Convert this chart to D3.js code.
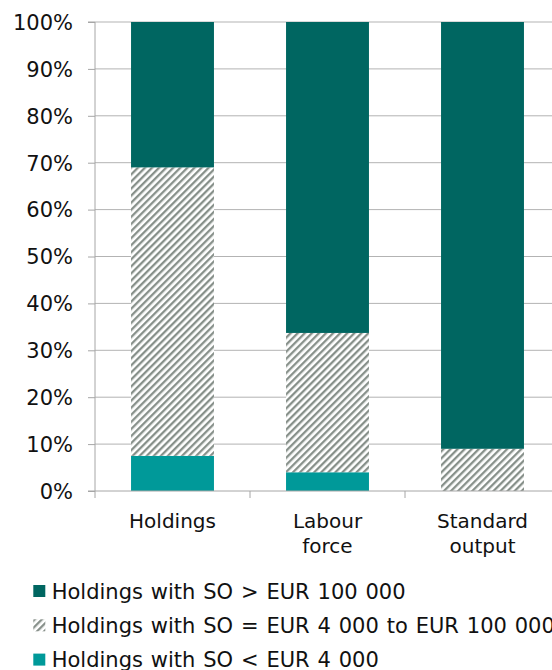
<!DOCTYPE html>
<html><head><meta charset="utf-8">
<script src="https://cdn.jsdelivr.net/npm/d3@7"></script>
<style>body{margin:0;background:#fff}svg{display:block}</style>
</head><body>
<script>
const categories = [["Holdings"], ["Labour", "force"], ["Standard", "output"]];
const seriesNames = ["Holdings with SO < EUR 4 000", "Holdings with SO = EUR 4 000 to EUR 100 000", "Holdings with SO > EUR 100 000"];
const small = [7.5, 4.0, 0.0];
const medium = [61.5, 29.7, 9.0];
const large = [31.0, 66.3, 91.0];
const yTicks = [0, 10, 20, 30, 40, 50, 60, 70, 80, 90, 100];

const W = 552, H = 670;
const svg = d3.select("body").append("svg").attr("width", W).attr("height", H);
const font = "DejaVu Sans, Verdana, sans-serif";

const defs = svg.append("defs");
const pat = defs.append("pattern").attr("id", "hatch").attr("patternUnits", "userSpaceOnUse")
  .attr("width", 5).attr("height", 5).attr("patternTransform", "rotate(45)");
pat.append("rect").attr("width", 5).attr("height", 5).attr("fill", "#ffffff");
pat.append("rect").attr("x", 0).attr("width", 2.3).attr("height", 5).attr("fill", "#87908a");

const x0 = 95, x1 = 560, yTop = 22, yBot = 491;
const keys = categories.map(c => c.join(" "));
const x = d3.scaleBand().domain(keys).range([x0, x1]).paddingInner(0.465).paddingOuter(0.2325);
const y = d3.scaleLinear().domain([0, 100]).range([yBot, yTop]);

const colors = ["#009999", "url(#hatch)", "#006661"];

// gridlines
svg.append("g").selectAll("line").data(yTicks.filter(d => d > 0)).join("line")
  .attr("x1", x0).attr("x2", x1).attr("y1", d => y(d)).attr("y2", d => y(d))
  .attr("stroke", "#b3b3b3").attr("stroke-width", 1);

// y axis
const yAxis = svg.append("g").attr("transform", `translate(${x0},0)`)
  .call(d3.axisLeft(y).tickValues(yTicks).tickFormat(d => d + "%").tickSize(7).tickPadding(15));
yAxis.select(".domain").attr("stroke", "#a6a6a6").attr("d", `M-7,${y(100)}H0V${y(0)}`);
yAxis.selectAll(".tick line").attr("stroke", "#a6a6a6");
yAxis.selectAll("text").attr("font-family", font).attr("font-size", 21).attr("fill", "#111").attr("dy", "0.35em");

// stacked data
const rows = keys.map((k, i) => ({ key: k, s: small[i], m: medium[i], l: large[i] }));
const stack = d3.stack().keys(["s", "m", "l"])(rows);
svg.append("g").selectAll("g").data(stack).join("g")
  .attr("fill", (d, i) => colors[i])
  .selectAll("rect").data(d => d).join("rect")
  .attr("x", d => x(d.data.key)).attr("width", x.bandwidth())
  .attr("y", d => y(d[1])).attr("height", d => Math.max(0, y(d[0]) - y(d[1])));

// x axis
const xAxisG = svg.append("g").attr("transform", `translate(0,${yBot})`);
xAxisG.append("line").attr("x1", x0 - 7).attr("x2", x1).attr("stroke", "#a6a6a6");
xAxisG.selectAll("line.tk").data(d3.range(keys.length + 1)).join("line").attr("class", "tk")
  .attr("x1", i => x0 + i * (x1 - x0) / keys.length).attr("x2", i => x0 + i * (x1 - x0) / keys.length)
  .attr("y1", 0).attr("y2", 7).attr("stroke", "#a6a6a6");
const xl = svg.append("g").selectAll("text").data(categories).join("text")
  .attr("font-family", font).attr("font-size", 20).attr("fill", "#111").attr("text-anchor", "middle")
  .attr("x", (d, i) => x(keys[i]) + x.bandwidth() / 2).attr("y", 528);
xl.selectAll("tspan").data(d => d).join("tspan")
  .attr("x", function () { return d3.select(this.parentNode).attr("x"); })
  .attr("dy", (d, i) => i === 0 ? 0 : 25).text(d => d);

// legend
const legOrder = [2, 1, 0];
const leg = svg.append("g").selectAll("g").data(legOrder).join("g")
  .attr("transform", (d, i) => `translate(33.3,${585 + i * 34.3})`);
leg.append("rect").attr("width", 12).attr("height", 12).attr("fill", d => colors[d]);
leg.append("text").attr("x", 18.4).attr("y", 13.5).attr("font-family", font).attr("font-size", 21)
  .attr("word-spacing", 1.2).attr("fill", "#111")
  .text(d => seriesNames[d]);
</script>
</body></html>
